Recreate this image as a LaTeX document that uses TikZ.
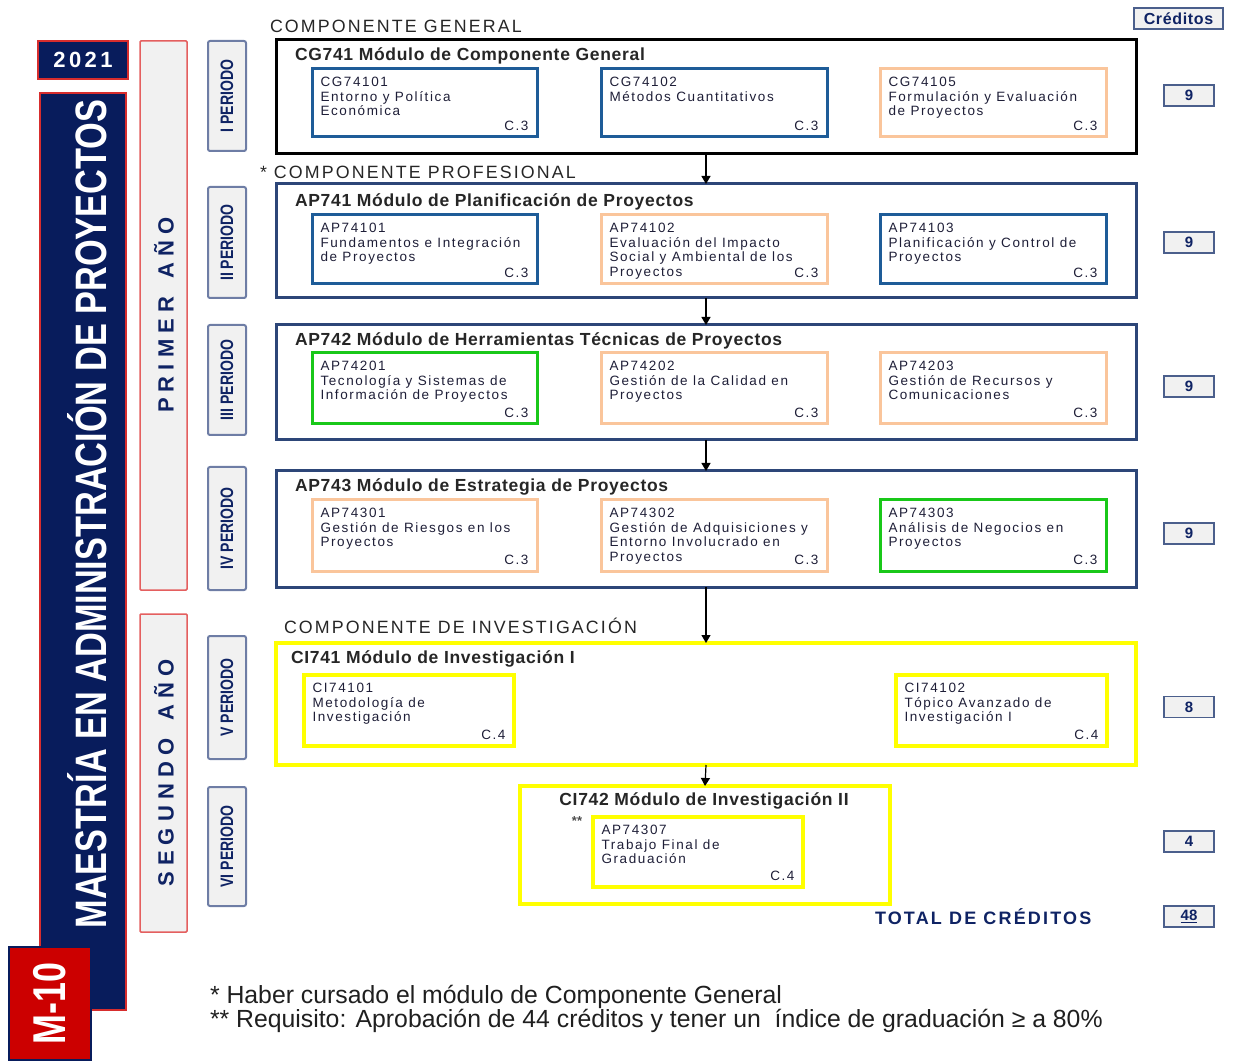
\documentclass[tikz,border=0pt]{standalone}
\usepackage{fontspec}
\usepackage{graphicx}
\setmainfont{Liberation Sans}
\newfontfamily\spc[LetterSpace=12]{Liberation Sans}
\newfontfamily\spcb[LetterSpace=4]{Liberation Sans}
\newfontfamily\nrw[FakeStretch=0.78]{Liberation Sans}
\usetikzlibrary{fit,arrows.meta}
\definecolor{navyfill}{RGB}{8,28,92}
\definecolor{redb}{RGB}{215,45,45}
\definecolor{mred}{RGB}{204,0,0}
\definecolor{yearred}{RGB}{228,95,95}
\definecolor{grayfill}{RGB}{241,241,241}
\definecolor{perb}{RGB}{110,125,165}
\definecolor{colBlue}{RGB}{30,92,152}
\definecolor{colOrange}{RGB}{250,197,155}
\definecolor{colGreen}{RGB}{25,200,25}
\definecolor{colYellow}{RGB}{255,255,0}
\definecolor{modNavy}{RGB}{45,70,120}
\definecolor{txt}{RGB}{30,30,55}
\definecolor{lblNavy}{RGB}{15,35,100}
\definecolor{credb}{RGB}{75,95,140}
\newcommand\crs[8]{%
  \node[#2, fit={(#3,#4) (#5,#6)}] (#1) {};
  \node[ctext, anchor=north west] (#1-t) at ([shift={(8.5,8)}]#1.north west) {#7};
  \node[ctext, anchor=south east] (#1-c) at ([shift={(-8.5,-6.5)}]#1.south east) {#8};
}
\begin{document}
\begin{tikzpicture}[x=1pt,y=-1pt,
  every node/.style={inner sep=0pt, outer sep=0pt},
  cBlue/.style={draw=colBlue, line width=3pt},
  cOrange/.style={draw=colOrange, line width=3pt},
  cGreen/.style={draw=colGreen, line width=3pt},
  cYellow/.style={draw=colYellow, line width=4.5pt},
  modBlack/.style={draw=black, line width=3pt},
  modNavy/.style={draw=modNavy, line width=3pt},
  modYellow/.style={draw=colYellow, line width=3.5pt},
  ctext/.style={font=\spc\fontsize{13.5}{14.7}\selectfont, text=txt, align=left},
  modtitle/.style={font=\spcb\fontsize{17.5}{18}\selectfont\bfseries, text=black!85, anchor=base west},
  heading/.style={font=\spc\fontsize{17.8}{18}\selectfont, text=black!85, anchor=base west},
  yearbox/.style={fill=grayfill, draw=yearred, line width=1.5pt, rounded corners=1pt},
  perbox/.style={fill=grayfill, draw=perb, line width=2pt, rounded corners=2pt},
  perlbl/.style={rotate=90, font=\nrw\fontsize{18}{18}\selectfont\bfseries, text=lblNavy},
  yearlbl/.style={rotate=90, font=\fontsize{22}{22}\selectfont\bfseries, text=lblNavy},
  credbox/.style={fill=grayfill, draw=credb, line width=1.5pt, minimum width=50pt, minimum height=21pt, font=\fontsize{15}{15}\selectfont\bfseries, text=lblNavy},
  conn/.style={line width=1.2pt, -{Triangle[length=8pt,width=9pt]}},
  foot/.style={font=\fontsize{24.8}{25}\selectfont, text=black!88, anchor=base west}
]
\useasboundingbox (0,0) rectangle (1235,1064);

% left banners
\node[fill=navyfill, draw=redb, line width=2pt, fit={(38,41) (128,79)}] (yr) {};
\node[text=white, font=\fontsize{22}{22}\selectfont\bfseries] (yrt) at (yr.center) {2\hspace{3.5pt}0\hspace{3.5pt}2\hspace{3.5pt}1};
\node[fill=navyfill, draw=redb, line width=1.2pt, fit={(40,93) (126,1010)}] (tb) {};
\node[rotate=90, text=white, font=\nrw\fontsize{44}{44}\selectfont\bfseries] (tbt) at (87,514) {MAESTRÍA EN ADMINISTRACIÓN DE PROYECTOS};
\node[fill=mred, draw=navyfill, line width=2pt, fit={(9,947) (91,1060)}] (mb) {};
\node[rotate=90, text=white, font=\nrw\fontsize{46}{46}\selectfont\bfseries] (mbt) at (mb.center) {M-10};

% years
\node[yearbox, fit={(140,41) (187,590)}] (y1) {};
\node[yearlbl] (y1t) at (164,315) {P R I M E R \ \ A Ñ O};
\node[yearbox, fit={(140,614) (187,932)}] (y2) {};
\node[yearlbl] (y2t) at (164,773) {S E G U N D O \ \ A Ñ O};

% periods
\node[perbox, fit={(208,41) (246,151)}] (p1) {};
\node[perlbl] at (p1.center) {I PERIODO};
\node[perbox, fit={(208,187) (246,298)}] (p2) {};
\node[perlbl] at (p2.center) {II PERIODO};
\node[perbox, fit={(208,325) (246,435)}] (p3) {};
\node[perlbl] at (p3.center) {III PERIODO};
\node[perbox, fit={(208,467) (246,590)}] (p4) {};
\node[perlbl] at (p4.center) {IV PERIODO};
\node[perbox, fit={(208,636) (246,759)}] (p5) {};
\node[perlbl] at (p5.center) {V PERIODO};
\node[perbox, fit={(208,787) (246,906)}] (p6) {};
\node[perlbl] at (p6.center) {VI PERIODO};

% headings
\node[heading] (h1) at (270,33) {COMPONENTE GENERAL};
\node[heading] (h2) at (260,179) {* COMPONENTE PROFESIONAL};
\node[heading] (h3) at (284,633) {COMPONENTE DE INVESTIGACIÓN};

% module CG741
\node[modBlack, fit={(276,40) (1136,154)}] (m1) {};
\node[modtitle] (m1t) at (295,61) {CG741 Módulo de Componente General};
\crs{c11}{cBlue}{312}{69}{537}{137}{CG74101\\Entorno y Política\\Económica}{C.3}
\crs{c12}{cBlue}{601}{69}{827}{137}{CG74102\\Métodos Cuantitativos}{C.3}
\crs{c13}{cOrange}{880}{69}{1106}{137}{CG74105\\Formulación y Evaluación\\de Proyectos}{C.3}

% module AP741
\node[modNavy, fit={(276,184) (1136,298)}] (m2) {};
\node[modtitle] (m2t) at (295,207) {AP741 Módulo de Planificación de Proyectos};
\crs{c21}{cBlue}{312}{215}{537}{284}{AP74101\\Fundamentos e Integración\\de Proyectos}{C.3}
\crs{c22}{cOrange}{601}{215}{827}{284}{AP74102\\Evaluación del Impacto\\Social y Ambiental de los\\Proyectos}{C.3}
\crs{c23}{cBlue}{880}{215}{1106}{284}{AP74103\\Planificación y Control de\\Proyectos}{C.3}

% module AP742
\node[modNavy, fit={(276,325) (1136,440)}] (m3) {};
\node[modtitle] (m3t) at (295,346) {AP742 Módulo de Herramientas Técnicas de Proyectos};
\crs{c31}{cGreen}{312}{353}{537}{424}{AP74201\\Tecnología y Sistemas de\\Información de Proyectos}{C.3}
\crs{c32}{cOrange}{601}{353}{827}{424}{AP74202\\Gestión de la Calidad en\\Proyectos}{C.3}
\crs{c33}{cOrange}{880}{353}{1106}{424}{AP74203\\Gestión de Recursos y\\Comunicaciones}{C.3}

% module AP743
\node[modNavy, fit={(276,471) (1136,587)}] (m4) {};
\node[modtitle] (m4t) at (295,492) {AP743 Módulo de Estrategia de Proyectos};
\crs{c41}{cOrange}{312}{500}{537}{571}{AP74301\\Gestión de Riesgos en los\\Proyectos}{C.3}
\crs{c42}{cOrange}{601}{500}{827}{571}{AP74302\\Gestión de Adquisiciones y\\Entorno Involucrado en\\Proyectos}{C.3}
\crs{c43}{cGreen}{880}{500}{1106}{571}{AP74303\\Análisis de Negocios en\\Proyectos}{C.3}

% module CI741
\node[modYellow, fit={(276,643) (1136,765)}] (m5) {};
\node[modtitle] (m5t) at (291,663) {CI741 Módulo de Investigación I};
\crs{c51}{cYellow}{304}{675}{514}{746}{CI74101\\Metodología de\\Investigación}{C.4}
\crs{c52}{cYellow}{896}{675}{1107}{746}{CI74102\\Tópico Avanzado de\\Investigación I}{C.4}

% module CI742
\node[modYellow, fit={(520,786) (890,904)}] (m6) {};
\node[modtitle, anchor=base] (m6t) at (704,805) {CI742 Módulo de Investigación II};
\node[font=\fontsize{13}{13}\selectfont\bfseries, text=black!70] (st) at (577,821) {**};
\crs{c61}{cYellow}{593}{817}{803}{887}{AP74307\\Trabajo Final de\\Graduación}{C.4}

% connectors
\draw[conn] (m1.south) -- (m2.north);
\draw[conn] (m2.south) -- (m3.north);
\draw[conn] (m3.south) -- (m4.north);
\draw[conn] (m4.south) -- (m5.north);
\draw[conn] (m5.south) -- (m6.north);

% credits
\node[credbox, minimum width=89pt, font=\spcb\fontsize{16}{16}\selectfont\bfseries] (kh) at (1178.5,18.5) {Créditos};
\node[credbox] (k1) at (1189,95.5) {9};
\node[credbox] (k2) at (1189,242.5) {9};
\node[credbox] (k3) at (1189,386.5) {9};
\node[credbox] (k4) at (1189,533.5) {9};
\node[credbox] (k5) at (1189,707) {8};
\node[credbox] (k6) at (1189,841.5) {4};
\node[credbox] (k7) at (1189,916.5) {\underline{48}};
\node[anchor=base west, font=\spc\fontsize{18}{18}\selectfont\bfseries, text=lblNavy] (tot) at (875,924.5) {TOTAL DE CRÉDITOS};

% footnotes
\node[foot] (f1) at (210,1003) {* Haber cursado el módulo de Componente General};
\node[foot] (f2) at (210,1027) {** Requisito: Aprobación de 44 créditos y tener un \ índice de graduación ≥ a 80\%};
\end{tikzpicture}
\end{document}
